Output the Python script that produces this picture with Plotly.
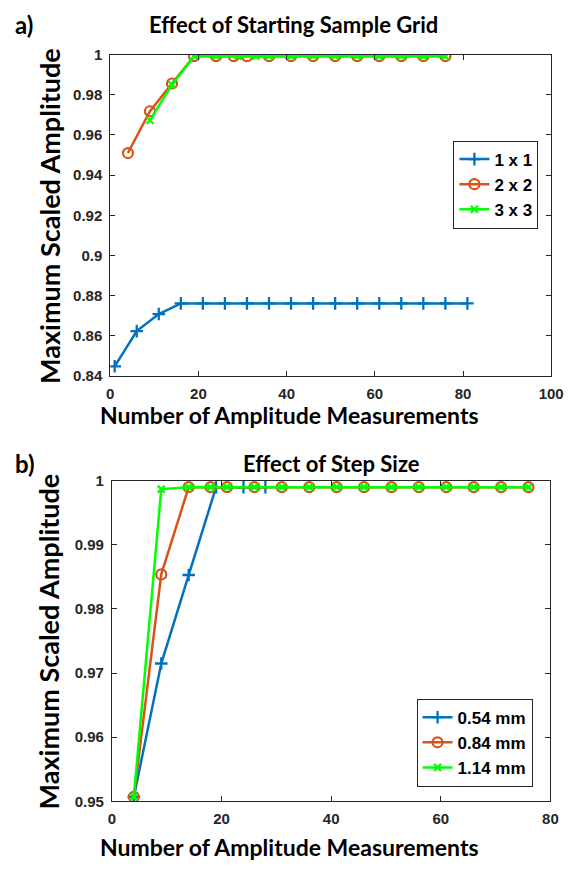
import plotly.graph_objects as go

# ---------------- data ----------------
# panel a) Effect of Starting Sample Grid
a_x_1x1 = [1, 6, 11, 16, 21, 26, 31, 36, 41, 46, 51, 56, 61, 66, 71, 76, 81]
a_y_1x1 = [0.8449, 0.8624, 0.8709, 0.8762, 0.8762, 0.8762, 0.8762, 0.8762, 0.8762,
           0.8762, 0.8762, 0.8762, 0.8762, 0.8762, 0.8762, 0.8762, 0.8762]
a_x_2x2 = [4, 9, 14, 19, 24, 28, 31, 36, 41, 46, 51, 56, 61, 66, 71, 76]
a_y_2x2 = [0.951, 0.9718, 0.9856, 0.9992, 0.9992, 0.9992, 0.9992, 0.9992, 0.9992,
           0.9992, 0.9992, 0.9992, 0.9992, 0.9992, 0.9992, 0.9992]
a_x_3x3 = [9, 14, 19, 24, 29, 33, 36, 41, 46, 51, 56, 61, 66, 71, 76]
a_y_3x3 = [0.9673, 0.985, 0.9992, 0.9992, 0.9992, 0.9992, 0.9992, 0.9992, 0.9992,
           0.9992, 0.9992, 0.9992, 0.9992, 0.9992, 0.9992]
a_names = ["1 x 1", "2 x 2", "3 x 3"]
a_xticks = [0, 20, 40, 60, 80, 100]
a_yticks = [0.84, 0.86, 0.88, 0.9, 0.92, 0.94, 0.96, 0.98, 1.0]
a_yticktext = ["0.84", "0.86", "0.88", "0.9", "0.92", "0.94", "0.96", "0.98", "1"]

# panel b) Effect of Step Size
b_x_054 = [4, 9, 14, 19, 24, 28]
b_y_054 = [0.9507, 0.9715, 0.9853, 0.999, 0.999, 0.999]
b_x_084 = [4, 9, 14, 18, 21, 26, 31, 36, 41, 46, 51, 56, 61, 66, 71, 76]
b_y_084 = [0.9507, 0.9854, 0.999, 0.999, 0.999, 0.999, 0.999, 0.999, 0.999,
           0.999, 0.999, 0.999, 0.999, 0.999, 0.999, 0.999]
b_x_114 = [4, 9, 14, 18, 21, 26, 31, 36, 41, 46, 51, 56, 61, 66, 71, 76]
b_y_114 = [0.9507, 0.9987, 0.999, 0.999, 0.999, 0.999, 0.999, 0.999, 0.999,
           0.999, 0.999, 0.999, 0.999, 0.999, 0.999, 0.999]
b_names = ["0.54 mm", "0.84 mm", "1.14 mm"]
b_xticks = [0, 20, 40, 60, 80]
b_yticks = [0.95, 0.96, 0.97, 0.98, 0.99, 1.0]
b_yticktext = ["0.95", "0.96", "0.97", "0.98", "0.99", "1"]

# ---------------- styling ----------------
BLUE = "#0072BD"
ORANGE = "#D95319"
GREEN = "#00FF00"
OFF = 8  # page body margin
W, H = 577 - OFF, 878 - OFF
TICKFONT = dict(family="Liberation Sans, Arial", size=15, color="#262626", weight="bold")
LEGFONT = dict(family="Liberation Sans, Arial", size=17, color="black", weight="bold")
XLBLFONT = dict(family="Lato", size=23, color="black", weight="bold")
YLBLFONT = dict(family="Lato", size=27, color="black", weight="bold")
TTLFONT = dict(family="Lato", size=22, color="black", weight="bold")


def px(xp):
    return (xp - OFF) / W


def py(yp):
    return 1 - (yp - OFF) / H


fig = go.Figure()

styles = [
    (BLUE, dict(symbol="cross-thin-open", size=9, line=dict(width=2.3, color=BLUE))),
    (ORANGE, dict(symbol="circle-open", size=10, line=dict(width=2.2, color=ORANGE))),
    (GREEN, dict(symbol="x-thin-open", size=7, line=dict(width=2.3, color=GREEN))),
]

a_series = [(a_x_1x1, a_y_1x1), (a_x_2x2, a_y_2x2), (a_x_3x3, a_y_3x3)]
for (xs, ys), name, (col, mk) in zip(a_series, a_names, styles):
    fig.add_trace(go.Scatter(x=xs, y=ys, name=name, mode="lines+markers",
                             line=dict(color=col, width=2.5), marker=mk,
                             xaxis="x", yaxis="y", legend="legend"))

b_series = [(b_x_054, b_y_054), (b_x_084, b_y_084), (b_x_114, b_y_114)]
for (xs, ys), name, (col, mk) in zip(b_series, b_names, styles):
    fig.add_trace(go.Scatter(x=xs, y=ys, name=name, mode="lines+markers",
                             line=dict(color=col, width=2.5), marker=mk,
                             xaxis="x2", yaxis="y2", legend="legend2"))

axis_common = dict(showgrid=False, zeroline=False, showline=True, linecolor="#262626",
                   linewidth=1, mirror="ticks", ticks="inside", ticklen=5,
                   tickcolor="#262626", tickfont=TICKFONT)

fig.update_layout(
    width=W, height=H, paper_bgcolor="white", plot_bgcolor="white",
    margin=dict(l=0, r=0, t=0, b=0),
    xaxis=dict(domain=[px(109.3), px(563.8)], range=[0, 100], tickvals=a_xticks,
               anchor="y", ticklabelstandoff=4, **axis_common),
    yaxis=dict(domain=[py(374.3), py(46.3)], range=[0.84, 1.0], tickvals=a_yticks,
               ticktext=a_yticktext, anchor="x", ticklabelstandoff=4, **axis_common),
    xaxis2=dict(domain=[px(111), px(563)], range=[0, 80], tickvals=b_xticks,
                anchor="y2", ticklabelstandoff=4, **axis_common),
    yaxis2=dict(domain=[py(808), py(481)], range=[0.95, 1.0], tickvals=b_yticks,
                ticktext=b_yticktext, anchor="x2", ticklabelstandoff=4, **axis_common),
    legend=dict(x=px(463), y=py(134), xanchor="left", yanchor="top",
                bordercolor="#262626", borderwidth=1, bgcolor="white",
                font=LEGFONT, tracegroupgap=0),
    legend2=dict(x=px(425), y=py(793), xanchor="left", yanchor="bottom",
                 bordercolor="#262626", borderwidth=1, bgcolor="white",
                 font=LEGFONT, tracegroupgap=0),
    showlegend=True,
)

ann = [
    dict(text="a)", x=px(9), y=py(16), xanchor="left",
         font=dict(family="Lato", size=24, color="black", weight="bold")),
    dict(text="Effect of Starting Sample Grid", x=px(298), y=py(16), font=TTLFONT),
    dict(text="Number of Amplitude Measurements", x=px(294), y=py(414), font=XLBLFONT),
    dict(text="Maximum Scaled Amplitude", x=px(46), y=py(211), textangle=-90,
         font=YLBLFONT),
    dict(text="b)", x=px(9), y=py(463), xanchor="left",
         font=dict(family="Lato", size=24, color="black", weight="bold")),
    dict(text="Effect of Step Size", x=px(337), y=py(463), font=TTLFONT),
    dict(text="Number of Amplitude Measurements", x=px(294), y=py(855), font=XLBLFONT),
    dict(text="Maximum Scaled Amplitude", x=px(46), y=py(645), textangle=-90,
         font=YLBLFONT),
]
for a in ann:
    a.update(xref="paper", yref="paper", showarrow=False, yanchor="middle")
    a.setdefault("xanchor", "center")
fig.update_layout(annotations=ann)

fig.write_html("out.html")
